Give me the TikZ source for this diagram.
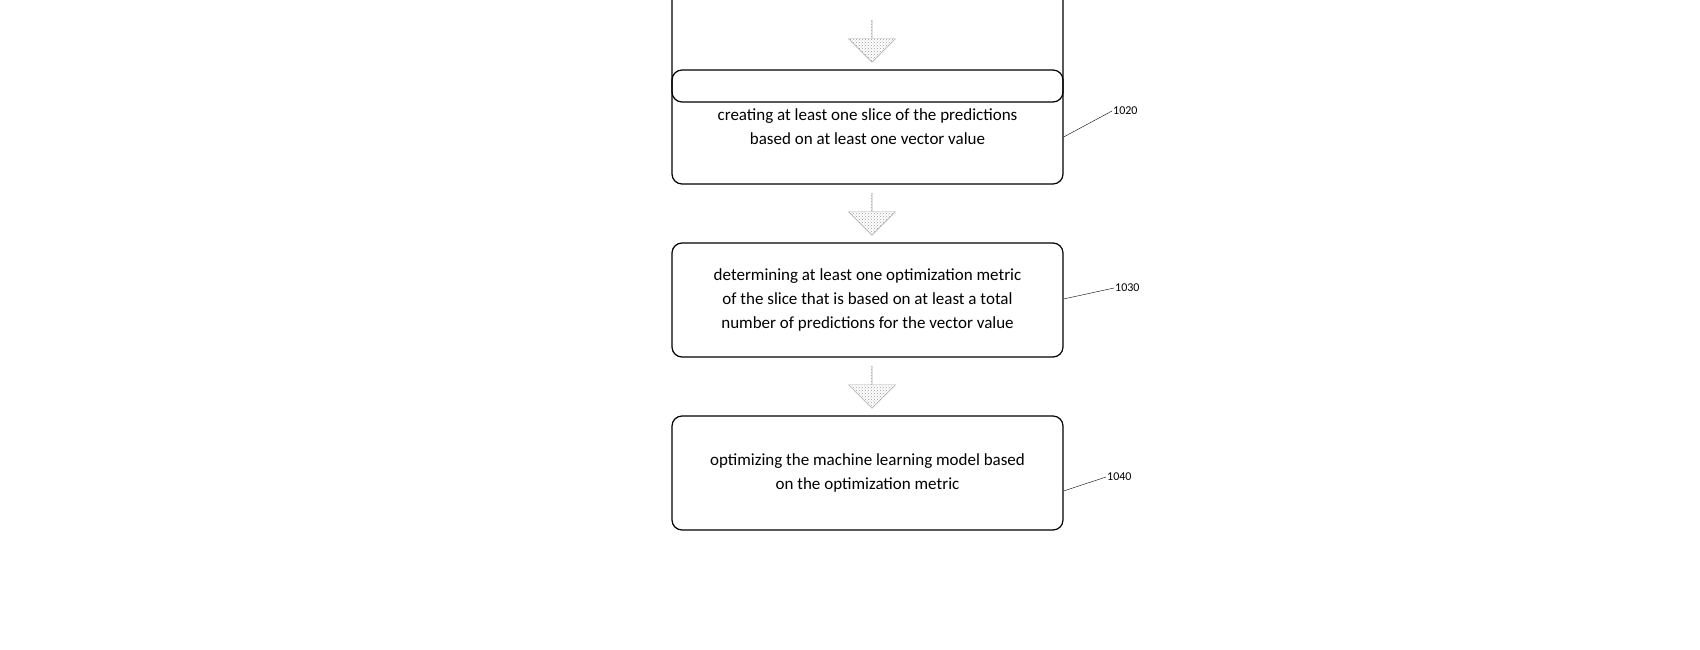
\documentclass[tikz,border=0pt]{standalone}
\usepackage{fontspec}
\setmainfont{Carlito}
\usetikzlibrary{shapes,positioning,patterns}
\tikzset{stage/.style={draw,rounded corners=10pt,line width=1.2pt,minimum width=391pt,minimum height=114pt,align=center,font=\fontsize{17}{24}\selectfont},
  ref/.style={font=\fontsize{12}{14}\selectfont,anchor=west,inner sep=1pt},
  down/.style={single arrow,shape border rotate=270,draw=gray!70,pattern=crosshatch dots,pattern color=gray!80,minimum width=47pt,single arrow head extend=9pt,single arrow tip angle=90,minimum height=42pt,inner sep=0pt}}
\begin{document}
\begin{tikzpicture}[x=1pt,y=1pt]
        \useasboundingbox (0,0) rectangle (1700,-650);
        \clip (0,0) rectangle (1700,-650);
        \node[stage] (a) at (867.5,-45) {};
        \node[stage] (b) at (867.5,-127) {creating at least one slice of the predictions\\based on at least one vector value};
        \node[stage] (c) at (867.5,-300) {determining at least one optimization metric\\of the slice that is based on at least a total\\number of predictions for the vector value};
        \node[stage] (d) at (867.5,-473) {optimizing the machine learning model based\\on the optimization metric};
        \node[down] (ab) at (872,-41) {};
        \node[down] (bc) at (872,-214) {};
        \node[down] (cd) at (872,-387) {};

        \node[ref] (nb) at (1112,-111) {1020};
        \node[ref] (nc) at (1114,-288) {1030};
        \node[ref] (nd) at (1106,-477) {1040};
        \draw [thin] (b.east) ++(0,-10) coordinate (bb) -- (nb.west);
        \draw [thin] (c.east) ++(0,1) coordinate (cc) -- (nc.west);
        \draw [thin] (d.east) ++(0,-18) coordinate (dd) -- (nd.west);
    \end{tikzpicture}
\end{document}
